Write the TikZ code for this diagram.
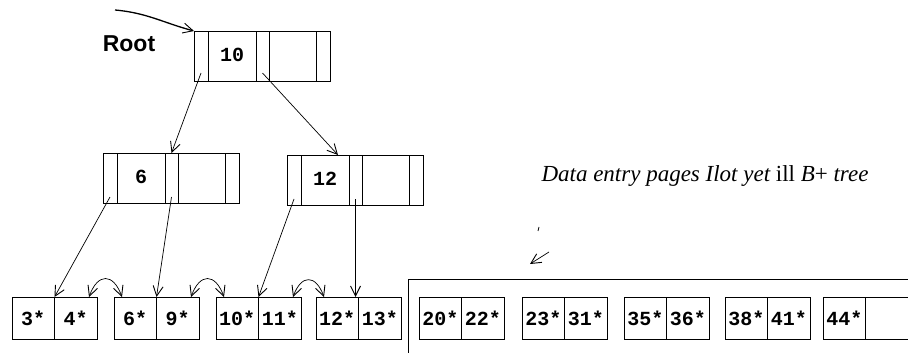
\documentclass[tikz,border=0pt]{standalone}
\usepackage{fontspec}
\setmainfont{Liberation Serif}
\setsansfont{Liberation Sans}
\setmonofont{Liberation Mono}
\usetikzlibrary{arrows.meta, positioning}

\tikzset{
  >={Straight Barb[length=10pt, width=10pt, line width=0.9pt]},
  %
  cell/.style={draw, line width=0.8pt, inner sep=0pt, outer sep=0pt,
               minimum height=50pt, font=\ttfamily\bfseries\fontsize{20}{20}\selectfont},
  ptrcell/.style={cell, minimum width=14pt},
  keycell/.style={cell, minimum width=48pt},
  leafcell/.style={cell, minimum width=42.5pt, minimum height=42pt},
  %
  ptr/.style={draw, line width=0.7pt, ->},
  sib/.style={draw, line width=0.7pt, <->, out=70, in=110, looseness=2},
  %
  lbl/.style={font=\sffamily\bfseries\fontsize{23}{23}\selectfont},
  note/.style={font=\rmfamily\itshape\fontsize{23}{23}\selectfont},
}

\begin{document}
\begin{tikzpicture}[x=1pt, y=-1pt]
\useasboundingbox (0,0) rectangle (908,353);

% ------------------------------------------------------------ index nodes
\foreach \n/\x/\y/\k in {root/194/31/10, six/103/153/6, twelve/287/155/12} {
  \node[ptrcell, anchor=north west] (\n-p0) at (\x,\y) {};
  \node[keycell, right=0pt of \n-p0] (\n-k1) {\raisebox{3pt}{\k}};
  \node[ptrcell, minimum width=13pt, right=0pt of \n-k1] (\n-p1) {};
  \node[keycell, minimum width=47pt, right=0pt of \n-p1] (\n-k2) {};
  \node[ptrcell, right=0pt of \n-k2] (\n-p2) {};
}

\node[lbl, anchor=base] (rootlbl) at (129,52) {Root};
\coordinate (rootfrom) at (115,10);
\draw[ptr, line width=1.3pt] (rootfrom) to[out=-5, in=165] (root-p0.north west);

% ------------------------------------------------------------ leaf pages
\foreach \i/\x/\a/\b in {1/12/3*/4*, 2/114/6*/9*, 3/216/10*/11*, 4/316/12*/13*,
                         5/419/20*/22*, 6/522/23*/31*, 7/624/35*/36*,
                         8/725/38*/41*, 9/823/44*/} {
  \node[leafcell, anchor=north west] (la\i) at (\x,297) {\a};
  \node[leafcell, right=0pt of la\i] (lb\i) {\b};
}

% ------------------------------------------------------------ pointers
\draw[ptr] ([yshift=8pt]root-p0.south) -- (six-p1.north);
\draw[ptr] ([yshift=8pt]root-p1.south) -- ([xshift=-11pt]twelve-k1.north east);
\draw[ptr] ([yshift=6pt]six-p0.south) -- (la1.north east);
\draw[ptr] ([yshift=6pt]six-p1.south) -- (la2.north east);
\draw[ptr] ([yshift=6pt]twelve-p0.south) -- (la3.north east);
\draw[ptr] ([yshift=6pt]twelve-p1.south) -- (twelve-p1 |- la4.north);

\foreach \i/\j in {1/2, 2/3, 3/4}
  \draw[sib] ([xshift=-8pt]lb\i.north east) to ([xshift=8pt]la\j.north west);

% ------------------------------------------------------------ pages outside
\coordinate (framea) at (908,279);
\coordinate (frameb) at (408,279);
\coordinate (framec) at (408,353);
\draw[line width=0.7pt] (framea) -- (frameb) -- (framec);

\node[note, anchor=base] (datatxt) at (705,181)
  {Data entry pages Ilot yet {\upshape ill} B\textup{+} tree};
\coordinate (datafrom) at (549,252);
\coordinate (datato) at (530,264);
\draw[line width=0.8pt] (539,227) -- (538,231);
\draw[ptr] (datafrom) -- (datato);

\end{tikzpicture}
\end{document}
